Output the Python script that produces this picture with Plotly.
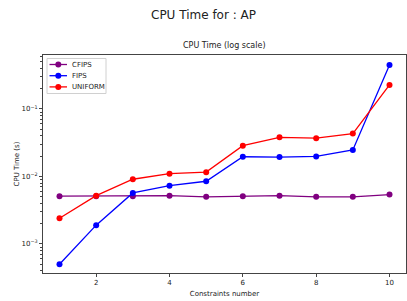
import plotly.graph_objects as go

x = [1, 2, 3, 4, 5, 6, 7, 8, 9, 10]
cfips = [0.0051, 0.0051, 0.0051, 0.0052, 0.0050, 0.0051, 0.0052, 0.0050, 0.0050, 0.0054]
fips = [0.00050, 0.0019, 0.0057, 0.0073, 0.0085, 0.0196, 0.0194, 0.0198, 0.0247, 0.449]
uniform = [0.0024, 0.0052, 0.0091, 0.0110, 0.0116, 0.0286, 0.038, 0.037, 0.0432, 0.227]
series = [("CFIPS", cfips, "purple"), ("FIPS", fips, "blue"), ("UNIFORM", uniform, "red")]

W, H = 407, 301
L, R, T, B = 43, 1, 55, 28
PW, PH = W - L - R, H - T - B


def px(xp):
    return (xp - L) / PW


def py(yp):
    return (H - B - yp) / PH


fig = go.Figure()
for name, vals, col in series:
    fig.add_trace(go.Scatter(x=x, y=vals, name=name, mode="lines+markers",
                             line=dict(color=col, width=1.3),
                             marker=dict(color=col, size=6)))

# compact matplotlib-style legend
shapes = [dict(type="rect", xref="paper", yref="paper", x0=px(47), x1=px(106),
               y0=py(93.5), y1=py(58.5), line=dict(color="#d0d0d0", width=1),
               fillcolor="rgba(255,255,255,0.85)", layer="above")]
annotations = []
for i, (name, vals, col) in enumerate(series):
    yy = 64.5 + i * 11.2
    shapes.append(dict(type="line", xref="paper", yref="paper", x0=px(49.5), x1=px(67),
                       y0=py(yy), y1=py(yy), line=dict(color=col, width=1.3), layer="above"))
    shapes.append(dict(type="circle", xref="paper", yref="paper", x0=px(55.3), x1=px(61.3),
                       y0=py(yy + 3), y1=py(yy - 3), line=dict(color=col, width=0),
                       fillcolor=col, layer="above"))
    annotations.append(dict(text=name, x=px(70), y=py(yy), xref="paper", yref="paper",
                            xanchor="left", yanchor="middle", showarrow=False,
                            font=dict(size=7)))

annotations += [
    dict(text="CPU Time for : AP", x=px(203.5), y=py(15), xref="paper", yref="paper",
         xanchor="center", yanchor="middle", showarrow=False, font=dict(size=12)),
    dict(text="CPU Time (log scale)", x=px(225), y=py(46), xref="paper", yref="paper",
         xanchor="center", yanchor="middle", showarrow=False, font=dict(size=8)),
]

minor_vals = [m * 10 ** e for e in (-4, -3, -2, -1) for m in range(2, 10)]
fig.update_layout(
    width=W, height=H,
    margin=dict(l=L, r=R, t=T, b=B, autoexpand=False),
    paper_bgcolor="white", plot_bgcolor="white",
    font=dict(family="DejaVu Sans", size=7, color="#222"),
    showlegend=False,
    xaxis=dict(range=[0.55, 10.45], tickvals=[2, 4, 6, 8, 10], ticks="outside", ticklen=3,
               tickcolor="#444", showline=True, linecolor="#444", linewidth=1, mirror=True,
               showgrid=False, zeroline=False,
               title=dict(text="Constraints number", font=dict(size=7), standoff=4)),
    yaxis=dict(type="log", range=[-3.43, -0.2], tickvals=[1e-3, 1e-2, 1e-1],
               ticktext=["10<sup>−3</sup>", "10<sup>−2</sup>", "10<sup>−1</sup>"],
               ticks="outside", ticklen=3, tickcolor="#444", showline=True, linecolor="#444",
               linewidth=1, mirror=True, showgrid=False, zeroline=False,
               minor=dict(tickvals=minor_vals, ticks="outside", ticklen=2, tickcolor="#444",
                          showgrid=False),
               title=dict(text="CPU Time (s)", font=dict(size=7), standoff=1)),
    shapes=shapes,
    annotations=annotations,
)
fig.write_html("out.html", config={"displayModeBar": False},
               post_script="document.body.style.margin='0';")
